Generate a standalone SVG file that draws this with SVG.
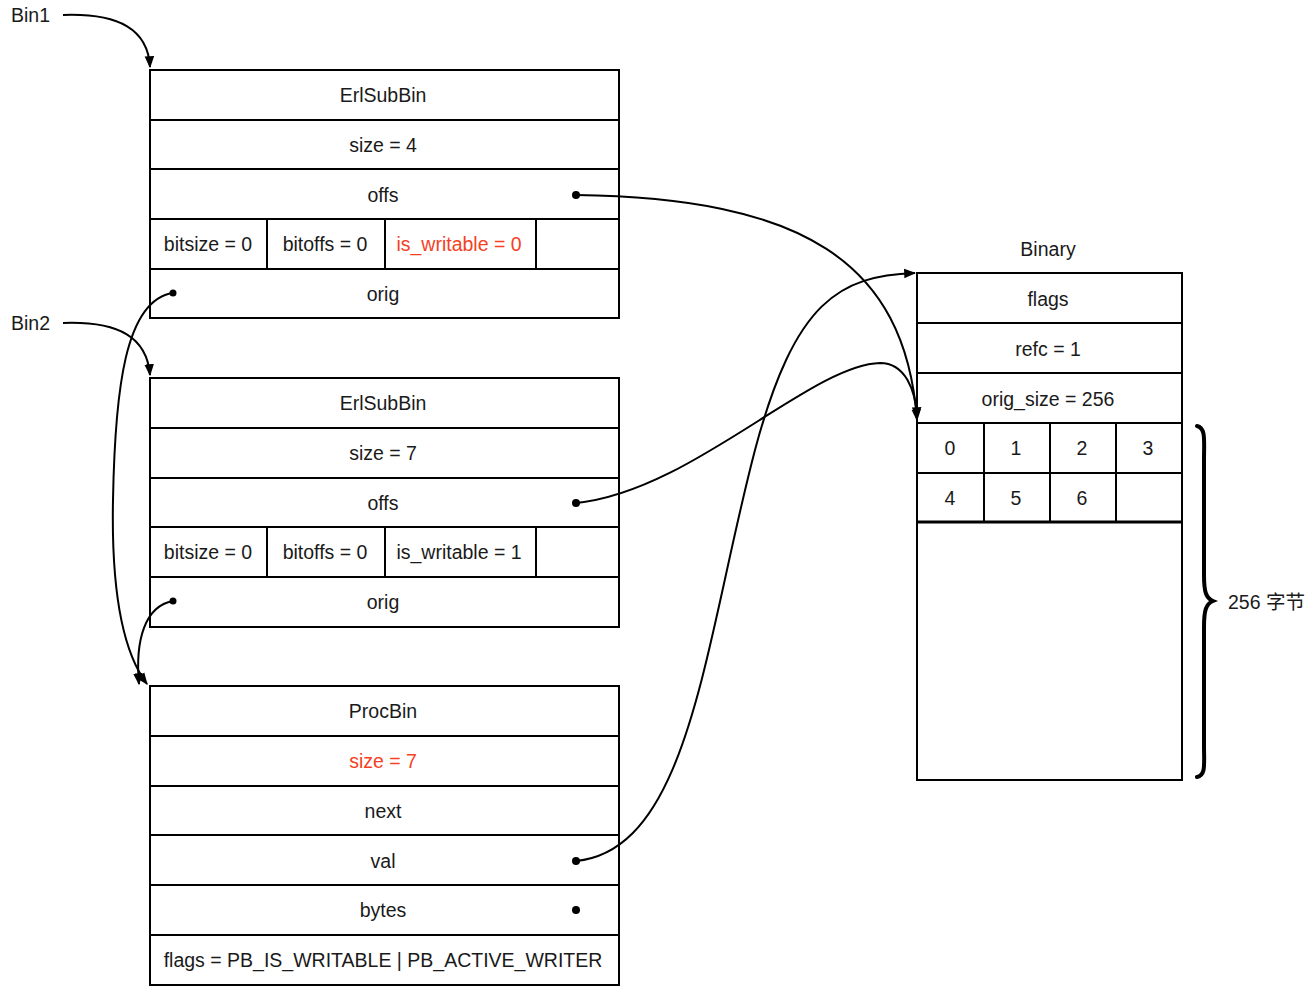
<svg xmlns="http://www.w3.org/2000/svg" width="1316" height="989" viewBox="0 0 1316 989">
<style>
.box{fill:#fff;stroke:#000;stroke-width:2}
.ln{stroke:#000;stroke-width:2;fill:none}
.t{font-family:"Liberation Sans","Noto Sans CJK SC",sans-serif;font-size:19.5px;fill:#1a1a1a;text-anchor:middle;dominant-baseline:central}
.red{fill:#f5411f}
.lab{text-anchor:start}
.c{stroke:#000;stroke-width:2;fill:none}
.dot{fill:#000}
</style>
<defs>
<marker id="ah" viewBox="0 0 10 10" refX="9" refY="5" markerWidth="12" markerHeight="12" markerUnits="userSpaceOnUse" orient="auto">
<path d="M0,1 L10,5 L0,9 z" fill="#000"/>
</marker>
</defs>

<g id="bin1-label"><text class="t lab" x="11" y="15">Bin1</text></g>
<g id="bin2-label"><text class="t lab" x="11" y="323">Bin2</text></g>

<g id="erlsubbin1">
<rect class="box" x="150" y="70" width="469" height="248"/>
<line class="ln" x1="150" y1="120" x2="619" y2="120"/>
<line class="ln" x1="150" y1="169" x2="619" y2="169"/>
<line class="ln" x1="150" y1="219" x2="619" y2="219"/>
<line class="ln" x1="150" y1="269" x2="619" y2="269"/>
<line class="ln" x1="267" y1="219" x2="267" y2="269"/>
<line class="ln" x1="385" y1="219" x2="385" y2="269"/>
<line class="ln" x1="536" y1="219" x2="536" y2="269"/>
<text class="t" x="383" y="95">ErlSubBin</text>
<text class="t" x="383" y="145">size = 4</text>
<text class="t" x="383" y="195">offs</text>
<text class="t" x="208" y="244">bitsize = 0</text>
<text class="t" x="325" y="244">bitoffs = 0</text>
<text class="t red" x="459" y="244">is_writable = 0</text>
<text class="t" x="383" y="294">orig</text>
</g>

<g id="erlsubbin2">
<rect class="box" x="150" y="378" width="469" height="249"/>
<line class="ln" x1="150" y1="428" x2="619" y2="428"/>
<line class="ln" x1="150" y1="478" x2="619" y2="478"/>
<line class="ln" x1="150" y1="527" x2="619" y2="527"/>
<line class="ln" x1="150" y1="577" x2="619" y2="577"/>
<line class="ln" x1="267" y1="527" x2="267" y2="577"/>
<line class="ln" x1="385" y1="527" x2="385" y2="577"/>
<line class="ln" x1="536" y1="527" x2="536" y2="577"/>
<text class="t" x="383" y="403">ErlSubBin</text>
<text class="t" x="383" y="453">size = 7</text>
<text class="t" x="383" y="503">offs</text>
<text class="t" x="208" y="552">bitsize = 0</text>
<text class="t" x="325" y="552">bitoffs = 0</text>
<text class="t" x="459" y="552">is_writable = 1</text>
<text class="t" x="383" y="602">orig</text>
</g>

<g id="procbin">
<rect class="box" x="150" y="686" width="469" height="299"/>
<line class="ln" x1="150" y1="736" x2="619" y2="736"/>
<line class="ln" x1="150" y1="786" x2="619" y2="786"/>
<line class="ln" x1="150" y1="835" x2="619" y2="835"/>
<line class="ln" x1="150" y1="885" x2="619" y2="885"/>
<line class="ln" x1="150" y1="935" x2="619" y2="935"/>
<text class="t" x="383" y="711">ProcBin</text>
<text class="t red" x="383" y="761">size = 7</text>
<text class="t" x="383" y="811">next</text>
<text class="t" x="383" y="861">val</text>
<text class="t" x="383" y="910">bytes</text>
<text class="t" x="383" y="960">flags = PB_IS_WRITABLE | PB_ACTIVE_WRITER</text>
<circle class="dot" cx="576" cy="910" r="4"/>
</g>

<g id="binary">
<text class="t" x="1048" y="249">Binary</text>
<rect class="box" x="917" y="273" width="265" height="507"/>
<line class="ln" x1="917" y1="323" x2="1182" y2="323"/>
<line class="ln" x1="917" y1="373" x2="1182" y2="373"/>
<line class="ln" x1="917" y1="423" x2="1182" y2="423"/>
<line class="ln" x1="917" y1="473" x2="1182" y2="473"/>
<line class="ln" x1="917" y1="522" x2="1182" y2="522" style="stroke-width:3"/>
<line class="ln" x1="984" y1="423" x2="984" y2="522"/>
<line class="ln" x1="1050" y1="423" x2="1050" y2="522"/>
<line class="ln" x1="1116" y1="423" x2="1116" y2="522"/>
<text class="t" x="1048" y="299">flags</text>
<text class="t" x="1048" y="349">refc = 1</text>
<text class="t" x="1048" y="399">orig_size = 256</text>
<text class="t" x="950" y="448">0</text>
<text class="t" x="1016" y="448">1</text>
<text class="t" x="1082" y="448">2</text>
<text class="t" x="1148" y="448">3</text>
<text class="t" x="950" y="498">4</text>
<text class="t" x="1016" y="498">5</text>
<text class="t" x="1082" y="498">6</text>
</g>

<g id="brace">
<path d="M1197,426 C1206,428 1204,440 1204,460 L1204,575 C1204,592 1206,598 1213,601 C1206,604 1204,610 1204,627 L1204,745 C1204,765 1206,775 1197,777" style="fill:none;stroke:#000;stroke-width:4;stroke-linecap:round"/>
<text class="t lab" x="1228" y="602">256 字节</text>
</g>

<g id="connectors">
<path class="c" d="M63,15 C120,13 148,30 150,67" marker-end="url(#ah)"/>
<path class="c" d="M63,323 C120,321 147,338 150,375" marker-end="url(#ah)"/>
<circle class="dot" cx="173" cy="293" r="3.5"/>
<path class="c" d="M173,293 C125,300 115,390 113,500 C111,600 125,655 147,684" marker-end="url(#ah)"/>
<circle class="dot" cx="173" cy="601" r="3.5"/>
<path class="c" d="M173,601 C145,606 135,640 139,684" marker-end="url(#ah)"/>
<circle class="dot" cx="576" cy="195" r="4"/>
<path class="c" d="M576,195 C800,198 905,260 917,420" marker-end="url(#ah)"/>
<circle class="dot" cx="576" cy="503" r="4"/>
<path class="c" d="M576,503 C690,492 810,365 880,363 C905,363 916,390 917,418" marker-end="url(#ah)"/>
<circle class="dot" cx="576" cy="861" r="4"/>
<path class="c" d="M576,861 C690,850 705,640 755,450 C795,300 840,276 915,273" marker-end="url(#ah)"/>
</g>
</svg>
